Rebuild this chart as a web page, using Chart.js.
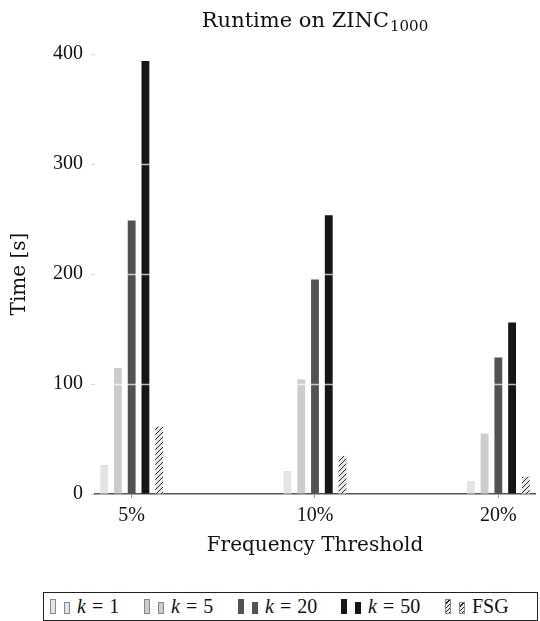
<!DOCTYPE html>
<html>
<head>
<meta charset="utf-8">
<script src="https://cdn.jsdelivr.net/npm/chart.js@4/dist/chart.umd.min.js"></script>
<style>
  body { margin: 0; background: #fff; }
  #wrap { position: relative; width: 540px; height: 621px; }
  #chartBox { position: absolute; left: 0; top: 0; width: 540px; height: 558px; }
  #legend {
    position: absolute; left: 43px; top: 592px; width: 495px; height: 29px;
    border: 1px solid #222; box-sizing: border-box;
    font-family: "Liberation Serif", serif; font-size: 20px; color: #111;
  }
  .item { position: absolute; top: 0; height: 27px; display: flex; align-items: center; }
  .sw { display: inline-block; width: 6px; box-sizing: border-box; border: 1px solid #777; }
  .sw.a { height: 15px; margin-right: 8px; }
  .sw.b { height: 12px; margin-top: 3px; margin-right: 7px; }
  .eq { margin: 0 6px; }
</style>
</head>
<body>
<div id="wrap">
  <div id="chartBox"><canvas id="myChart"></canvas></div>
  <div id="legend"></div>
</div>
<script>
const categories = ["5%", "10%", "20%"];
const xPositions = [0, 1, 2];
const seriesNames = ["k = 1", "k = 5", "k = 20", "k = 50", "FSG"];
const k1 = [26.4, 21, 11.8];
const k5 = [114.5, 104, 55];
const k20 = [248.7, 195, 124.2];
const k50 = [393.6, 253.3, 156];
const fsg = [61.3, 34.6, 15.8];
const yTicks = [0, 100, 200, 300, 400];
const titleParts = ["Runtime on ZINC", "1000"];

const colors = ["#e4e4e4", "#cccccc", "#525252", "#161616"];

// hatch pattern for FSG
const pc = document.createElement("canvas");
pc.width = 5;
pc.height = 5;
const pctx = pc.getContext("2d");
pctx.fillStyle = "#e8e8e8";
pctx.fillRect(0, 0, 5, 5);
pctx.strokeStyle = "#2a2a2a";
pctx.lineWidth = 1;
pctx.beginPath();
pctx.moveTo(-1, 6); pctx.lineTo(6, -1);
pctx.moveTo(-1, 1); pctx.lineTo(1, -1);
pctx.moveTo(4, 6); pctx.lineTo(6, 4);
pctx.stroke();
const hatch = pctx.createPattern(pc, "repeat");

const seriesValues = [k1, k5, k20, k50, fsg];
const toPoints = (vals) => vals.map((v, i) => ({ x: xPositions[i], y: v }));

const serif = "'Liberation Serif', serif";
const wide = "'DejaVu Serif', serif";

// white grid lines drawn on top of the bars
const overGrid = {
  id: "overGrid",
  afterDatasetsDraw(chart) {
    const { ctx, chartArea, scales: { y } } = chart;
    ctx.save();
    ctx.strokeStyle = "rgba(255,255,255,0.7)";
    ctx.lineWidth = 1.3;
    y.ticks.forEach((t) => {
      if (t.value === 0) return;
      const py = Math.round(y.getPixelForValue(t.value)) + 0.5;
      ctx.beginPath();
      ctx.moveTo(chartArea.left, py);
      ctx.lineTo(chartArea.right, py);
      ctx.stroke();
    });
    ctx.restore();
  },
};

// title with a subscript, centred over the plot area
const subTitle = {
  id: "subTitle",
  afterDraw(chart) {
    const { ctx, chartArea } = chart;
    const mainFont = "21px " + wide;
    const subFont = "15px " + wide;
    ctx.save();
    ctx.fillStyle = "#111";
    ctx.textBaseline = "alphabetic";
    ctx.textAlign = "left";
    ctx.font = mainFont;
    const w1 = ctx.measureText(titleParts[0]).width;
    ctx.font = subFont;
    const w2 = ctx.measureText(titleParts[1]).width;
    const x0 = (chartArea.left + chartArea.right) / 2 - (w1 + w2 + 1) / 2;
    ctx.font = mainFont;
    ctx.fillText(titleParts[0], x0, 27);
    ctx.font = subFont;
    ctx.fillText(titleParts[1], x0 + w1 + 1, 31);
    ctx.restore();
  },
};

const ctx = document.getElementById("myChart");

new Chart(ctx, {
  type: "bar",
  data: {
    datasets: seriesValues.map((vals, i) => ({
      label: seriesNames[i],
      data: toPoints(vals),
      backgroundColor: i < 4 ? colors[i] : hatch,
      borderWidth: 0,
    })),
  },
  options: {
    responsive: true,
    maintainAspectRatio: false,
    animation: false,
    categoryPercentage: 0.375,
    barPercentage: 0.57,
    layout: { padding: { top: 54, right: 5 } },
    plugins: {
      legend: { display: false },
      tooltip: { enabled: false },
      title: { display: false },
    },
    scales: {
      x: {
        type: "linear",
        min: -0.2,
        max: 2.2,
        offset: false,
        afterBuildTicks: (scale) => {
          scale.ticks = xPositions.map((v) => ({ value: v }));
        },
        ticks: {
          callback: (value, index) => categories[index],
          color: "#111",
          padding: 6,
          font: { family: serif, size: 20 },
        },
        grid: {
          offset: false,
          drawOnChartArea: false,
          tickLength: 4,
          color: "#999",
        },
        border: { display: true, color: "#555", width: 1.5 },
        title: {
          display: true,
          text: "Frequency Threshold",
          color: "#111",
          font: { family: wide, size: 20 },
          padding: { top: 0, bottom: 0 },
        },
      },
      y: {
        min: 0,
        max: 400,
        afterBuildTicks: (scale) => {
          scale.ticks = yTicks.map((v) => ({ value: v }));
        },
        afterFit: (scale) => {
          scale.width = 95;
        },
        ticks: {
          color: "#111",
          padding: 8,
          font: { family: serif, size: 20 },
        },
        grid: {
          drawOnChartArea: false,
          tickLength: 4,
          color: "#ccc",
          lineWidth: 0.8,
        },
        border: { display: false },
        title: {
          display: true,
          text: "Time [s]",
          color: "#111",
          font: { family: wide, size: 20 },
          padding: { top: 8, bottom: 0 },
        },
      },
    },
  },
  plugins: [overGrid, subTitle],
});

// legend with two small bars per entry
const legendLeft = [6, 100, 194, 297, 401];
const legend = document.getElementById("legend");
seriesNames.forEach((name, i) => {
  const item = document.createElement("div");
  item.className = "item";
  item.style.left = legendLeft[i] + "px";
  for (const cls of ["a", "b"]) {
    const sw = document.createElement("span");
    sw.className = "sw " + cls;
    if (i < 4) {
      sw.style.background = colors[i];
      sw.style.borderColor = i < 2 ? "#888" : colors[i];
    } else {
      sw.style.background = "repeating-linear-gradient(135deg, #e8e8e8 0 2px, #222 2px 3px)";
      sw.style.borderColor = "#888";
    }
    item.appendChild(sw);
  }
  const txt = document.createElement("span");
  if (i < 4) {
    const parts = name.split(" = ");
    txt.innerHTML = "<i>" + parts[0] + "</i><span class='eq'>=</span>" + parts[1];
  } else {
    txt.textContent = name;
  }
  item.appendChild(txt);
  legend.appendChild(item);
});
</script>
</body>
</html>
